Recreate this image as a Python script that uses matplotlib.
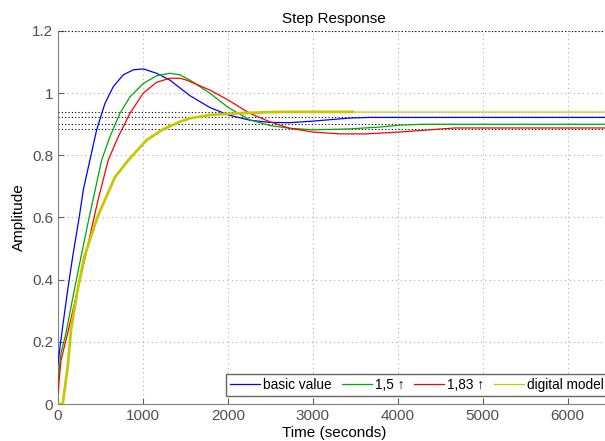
import matplotlib
matplotlib.use("Agg")
import matplotlib.pyplot as plt
from matplotlib.lines import Line2D

plt.rcParams['font.family'] = ['Liberation Sans', 'DejaVu Sans']

# step responses (time in s, amplitude)
t_basic = [0, 24, 55, 114, 173, 251, 298, 376, 455, 553, 651, 769, 886, 1004, 1161, 1318,
           1553, 1788, 2004, 2259, 2494, 2729, 3000, 3435, 3670, 6500]
y_basic = [0.13, 0.184, 0.249, 0.367, 0.474, 0.603, 0.689, 0.785, 0.882, 0.967, 1.021, 1.059,
           1.075, 1.078, 1.064, 1.042, 0.992, 0.954, 0.93, 0.913, 0.906, 0.905, 0.91, 0.92, 0.922, 0.922]

t_15 = [0, 35, 94, 192, 271, 369, 415, 514, 612, 729, 847, 1004, 1161, 1318, 1435, 1553,
        1788, 2004, 2259, 2494, 2729, 3000, 3435, 3788, 4024, 4294, 6500]
y_15 = [0.077, 0.163, 0.228, 0.367, 0.474, 0.603, 0.66, 0.785, 0.86, 0.935, 0.988, 1.031,
        1.056, 1.064, 1.059, 1.042, 1.0, 0.954, 0.914, 0.896, 0.887, 0.882, 0.885, 0.891, 0.897, 0.90, 0.90]

t_183 = [0, 35, 114, 231, 322, 427, 475, 592, 710, 847, 1004, 1161, 1318, 1435, 1514, 1788,
         2004, 2259, 2494, 2729, 3000, 3318, 3635, 4024, 4176, 4670, 6500]
y_183 = [0.035, 0.14, 0.228, 0.367, 0.474, 0.603, 0.66, 0.785, 0.86, 0.935, 1.0, 1.035,
         1.048, 1.048, 1.042, 1.01, 0.978, 0.935, 0.908, 0.887, 0.875, 0.869, 0.869, 0.875, 0.878, 0.888, 0.888]

t_dig = [0, 55, 114, 153, 231, 310, 467, 671, 830, 1043, 1239, 1435, 1553, 1788,
         2102, 2494, 2729, 3470]
y_dig = [0, 0, 0.12, 0.238, 0.367, 0.474, 0.603, 0.73, 0.785, 0.849, 0.884, 0.908,
         0.919, 0.93, 0.935, 0.939, 0.94, 0.94]

steady = [0.941, 0.922, 0.901, 0.886]
colors = ['#0000ff', '#00aa00', '#ff0000', '#c8c800']
labels = ['basic value', '1,5 \u2191', '1,83 \u2191', 'digital model']

fig = plt.figure(figsize=(6.05, 4.41), dpi=100)
ax = fig.add_axes([58 / 605, 37 / 441, 552 / 605, 373 / 441])

for s in steady:
    ax.axhline(s, color='black', linestyle=(0, (1, 2)), linewidth=0.8, zorder=1)

ax.plot(t_basic, y_basic, color=colors[0], linewidth=0.9, zorder=3)
ax.plot(t_15, y_15, color=colors[1], linewidth=0.9, zorder=3)
ax.plot(t_183, y_183, color=colors[2], linewidth=0.9, zorder=3)
ax.plot(t_dig, y_dig, color=colors[3], linewidth=2.0, zorder=4)
ax.plot([t_dig[-1], 6500], [y_dig[-1], y_dig[-1]], color='#d8d870', linewidth=1.2, zorder=2)

ax.set_xlim(0, 6500)
ax.set_ylim(0, 1.2)
ax.set_xticks([0, 1000, 2000, 3000, 4000, 5000, 6000])
ax.set_yticks([0, 0.2, 0.4, 0.6, 0.8, 1, 1.2])
ax.set_yticklabels(['0', '0.2', '0.4', '0.6', '0.8', '1', '1.2'])
ax.grid(True, color='#b0b0b0', linestyle=(0, (1, 3)), linewidth=0.8)
ax.tick_params(direction='in', colors='#606060', labelsize=11, length=4, labelcolor='#505050')
for sp in ax.spines.values():
    sp.set_color('#808080')
ax.spines['top'].set_visible(False)
ax.axhline(1.2, color='black', linestyle=(0, (1, 2)), linewidth=0.8)

ax.set_title('Step Response', fontsize=11, pad=6)
ax.set_xlabel('Time (seconds)', fontsize=11, labelpad=2)
ax.set_ylabel('Amplitude', fontsize=11, labelpad=4)

handles = [Line2D([], [], color=c, linewidth=0.9) for c in colors]
leg = ax.legend(handles, labels, ncol=4, loc='lower left', bbox_to_anchor=(226 / 605, 45 / 441),
                bbox_transform=fig.transFigure, fontsize=9.8, frameon=True, fancybox=False,
                handlelength=2.2, handletextpad=0.25, columnspacing=0.7, borderpad=0.3,
                borderaxespad=0)
leg.get_frame().set_edgecolor('#404040')
leg.get_frame().set_linewidth(1.0)

fig.savefig('out.png', dpi=100)
